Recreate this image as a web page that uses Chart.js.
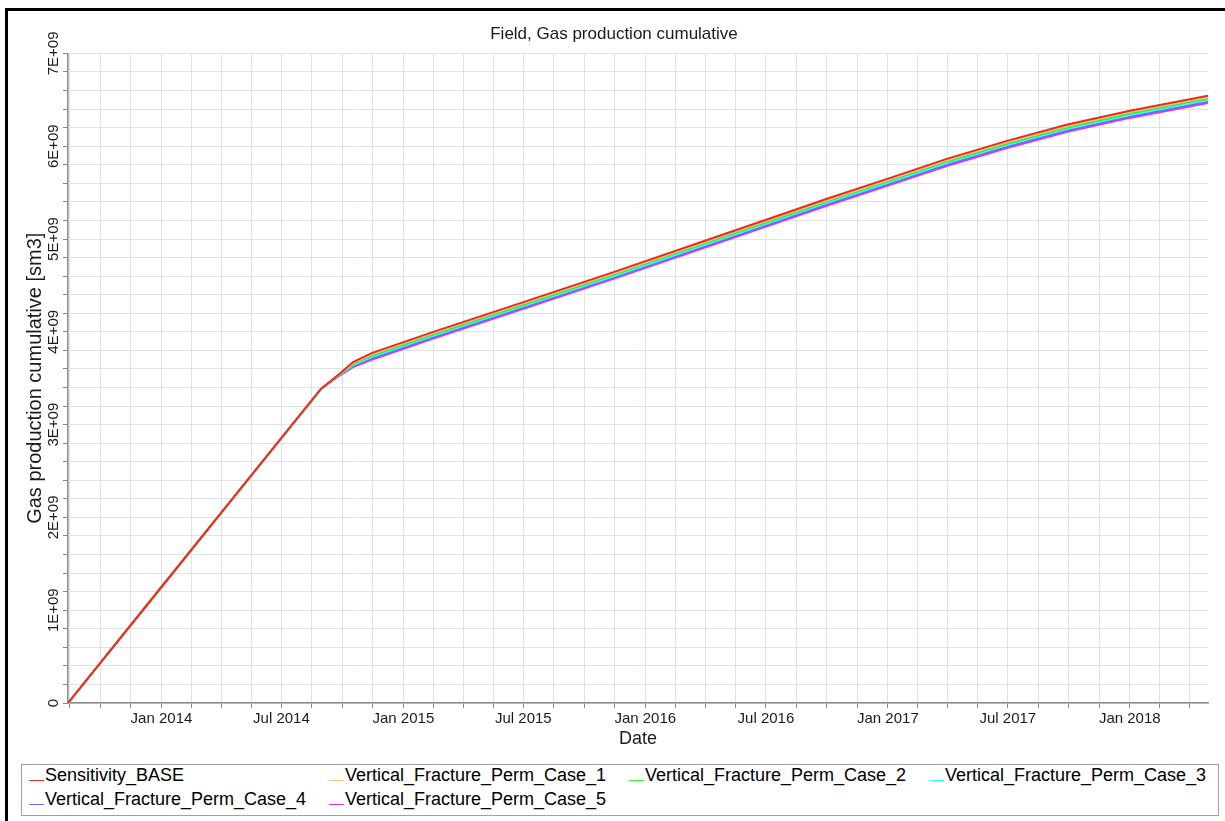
<!DOCTYPE html>
<html>
<head>
<meta charset="utf-8">
<title>Field, Gas production cumulative</title>
<script src="https://cdn.jsdelivr.net/npm/chart.js@4.4.1/dist/chart.umd.min.js"></script>
<style>
  html, body { margin: 0; padding: 0; background: #fff; }
  body { width: 1225px; height: 821px; position: relative; overflow: hidden;
         font-family: 'Liberation Sans', Arial, sans-serif; }
  #frame { position: absolute; left: 5px; top: 8px; right: -10px; bottom: -10px;
           border-left: 3px solid #000; border-top: 3px solid #000; pointer-events: none; }
  #plot { position: absolute; left: 0; top: 0; }
  #legend { position: absolute; left: 21px; top: 764px; width: 1198px; box-sizing: border-box;
            border: 1px solid #a0a0a0; padding: 0 0 2px 7px;
            display: grid; grid-template-columns: repeat(4, 300px); grid-auto-rows: 24px; }
  .item { font-size: 18px; line-height: 20px; color: #000; white-space: nowrap; }
  .swatch { display: inline-block; width: 15px; height: 0; border-top: 1px solid;
            vertical-align: baseline; margin-right: 1px; }
</style>
</head>
<body>
<canvas id="plot" width="1225" height="760"></canvas>
<div id="legend"></div>
<div id="frame"></div>
<script>
/* Field gas production cumulative, sensitivity runs (values in 1E+09 sm3) */

const dates = [
  '2013-08-13', '2014-01-01', '2014-04-01', '2014-06-29', '2014-08-30',
  '2014-09-25', '2014-10-17', '2014-11-14', '2015-02-14', '2015-07-01',
  '2015-11-14', '2016-04-01', '2016-07-20', '2016-10-01', '2016-12-31',
  '2017-04-01', '2017-07-01', '2017-09-29', '2018-01-01', '2018-04-29'
];

const sensitivityBase = [0, 1.250, 2.048, 2.837, 3.387, 3.538, 3.674, 3.771, 3.997, 4.320,
  4.643, 4.984, 5.253, 5.433, 5.648, 5.866, 6.060, 6.233, 6.383, 6.545];
const permCase1 = [0, 1.250, 2.048, 2.837, 3.387, 3.534, 3.663, 3.757, 3.983, 4.306,
  4.628, 4.969, 5.238, 5.418, 5.633, 5.851, 6.045, 6.218, 6.367, 6.529];
const permCase2 = [0, 1.250, 2.048, 2.837, 3.387, 3.530, 3.652, 3.742, 3.968, 4.291,
  4.614, 4.955, 5.223, 5.403, 5.618, 5.836, 6.029, 6.202, 6.352, 6.513];
const permCase3 = [0, 1.250, 2.048, 2.837, 3.387, 3.526, 3.641, 3.728, 3.954, 4.277,
  4.599, 4.940, 5.209, 5.389, 5.603, 5.820, 6.014, 6.187, 6.336, 6.498];
const permCase4 = [0, 1.250, 2.048, 2.837, 3.387, 3.522, 3.630, 3.713, 3.939, 4.262,
  4.585, 4.926, 5.194, 5.374, 5.588, 5.805, 5.998, 6.171, 6.321, 6.482];
const permCase5 = [0, 1.250, 2.048, 2.837, 3.387, 3.518, 3.619, 3.699, 3.925, 4.248,
  4.570, 4.911, 5.179, 5.359, 5.573, 5.790, 5.983, 6.156, 6.305, 6.466];

const seriesNames = [
  'Sensitivity_BASE',
  'Vertical_Fracture_Perm_Case_1',
  'Vertical_Fracture_Perm_Case_2',
  'Vertical_Fracture_Perm_Case_3',
  'Vertical_Fracture_Perm_Case_4',
  'Vertical_Fracture_Perm_Case_5'
];
const seriesValues = [sensitivityBase, permCase1, permCase2, permCase3, permCase4, permCase5];
const seriesColors = ['#ee2a1e', '#ffbf80', '#30f030', '#30ffff', '#6a6aff', '#e030ff'];

const xTickLabels = ['Jan 2014', 'Jul 2014', 'Jan 2015', 'Jul 2015', 'Jan 2016',
  'Jul 2016', 'Jan 2017', 'Jul 2017', 'Jan 2018'];
const yTickLabels = ['0', '1E+09', '2E+09', '3E+09', '4E+09', '5E+09', '6E+09', '7E+09'];

const DAY = 864e5;
const GIGA = 1e9;
const Y_MAX = 7e9;
const Y_MINOR = 2e8;
const MONTHS = ['Jan', 'Feb', 'Mar', 'Apr', 'May', 'Jun', 'Jul', 'Aug', 'Sep', 'Oct', 'Nov', 'Dec'];
const FONT = "'Liberation Sans', Arial, sans-serif";
const TEXT = '#1a1a1a';
const GRID = '#e2e2e2';
const AXIS = '#8a8a8a';

const xs = dates.map(d => Date.parse(d) / DAY);

function addMonths(day, n) {
  const d = new Date(day * DAY);
  return Date.UTC(d.getUTCFullYear(), d.getUTCMonth() + n, 1) / DAY;
}

const majorDays = xTickLabels.map(l => {
  const [mon, yr] = l.split(' ');
  return Date.UTC(+yr, MONTHS.indexOf(mon), 1) / DAY;
});

// half-year majors, each split into four for the minor grid
function buildDateTicks(scale) {
  const edges = [addMonths(majorDays[0], -6), ...majorDays, addMonths(majorDays[majorDays.length - 1], 6)];
  const values = [];
  for (let i = 0; i < edges.length - 1; i++) {
    for (let k = 0; k < 4; k++) values.push(edges[i] + (edges[i + 1] - edges[i]) * k / 4);
  }
  values.push(edges[edges.length - 1]);
  scale.ticks = values.filter(v => v >= scale.min && v <= scale.max).map(v => ({ value: v }));
}

function buildValueTicks(scale) {
  const n = Math.round(Y_MAX / Y_MINOR);
  scale.ticks = Array.from({ length: n + 1 }, (_, i) => ({ value: i * Y_MINOR }));
}

const datasets = seriesNames.map((name, i) => ({
  label: name,
  data: seriesValues[i].map((v, j) => ({ x: xs[j], y: v * GIGA })),
  borderColor: seriesColors[i],
  backgroundColor: seriesColors[i],
  borderWidth: 2,
  pointRadius: 0,
  tension: 0,
  fill: false
}));

const chart = new Chart(document.getElementById('plot'), {
  type: 'line',
  data: { datasets },
  options: {
    responsive: false,
    animation: false,
    events: [],
    layout: { padding: { left: 20, right: 17, top: 18, bottom: 9 } },
    plugins: {
      legend: { display: false },
      tooltip: { enabled: false },
      title: {
        display: true,
        text: 'Field, Gas production cumulative',
        color: TEXT,
        font: { family: FONT, size: 17, weight: 'normal' },
        padding: { top: 6, bottom: 9 }
      }
    },
    scales: {
      x: {
        type: 'linear',
        min: xs[0],
        max: xs[xs.length - 1],
        afterBuildTicks: buildDateTicks,
        afterFit: s => { s.height = 48; },
        grid: { color: GRID, lineWidth: 1, tickLength: 5, tickColor: AXIS },
        border: { color: AXIS, width: 1.5 },
        ticks: {
          autoSkip: false,
          maxRotation: 0,
          padding: 2,
          color: TEXT,
          font: { family: FONT, size: 15 },
          callback: v => {
            const idx = majorDays.indexOf(v);
            return idx >= 0 ? xTickLabels[idx] : '';
          }
        },
        title: {
          display: true,
          text: 'Date',
          color: TEXT,
          font: { family: FONT, size: 18 },
          padding: { top: 0, bottom: 1 }
        }
      },
      y: {
        type: 'linear',
        min: 0,
        max: Y_MAX,
        afterBuildTicks: buildValueTicks,
        afterFit: s => { s.width = 48; },
        grid: { color: GRID, lineWidth: 1, tickLength: 5, tickColor: AXIS },
        border: { color: AXIS, width: 1.5 },
        ticks: {
          autoSkip: false,
          minRotation: 90,
          maxRotation: 90,
          crossAlign: 'center',
          padding: -13,
          color: TEXT,
          font: { family: FONT, size: 15 },
          callback: v => (v % GIGA === 0 ? yTickLabels[v / GIGA] : '')
        },
        title: {
          display: true,
          text: 'Gas production cumulative [sm3]',
          color: TEXT,
          font: { family: FONT, size: 20 },
          padding: { top: 3, bottom: 0 }
        }
      }
    }
  }
});

// legend in four fixed columns, filled from the chart's datasets
const legend = document.getElementById('legend');
chart.data.datasets.forEach(ds => {
  const item = document.createElement('div');
  item.className = 'item';
  const swatch = document.createElement('span');
  swatch.className = 'swatch';
  swatch.style.borderColor = ds.borderColor;
  item.appendChild(swatch);
  item.appendChild(document.createTextNode(ds.label));
  legend.appendChild(item);
});
</script>
</body>
</html>
